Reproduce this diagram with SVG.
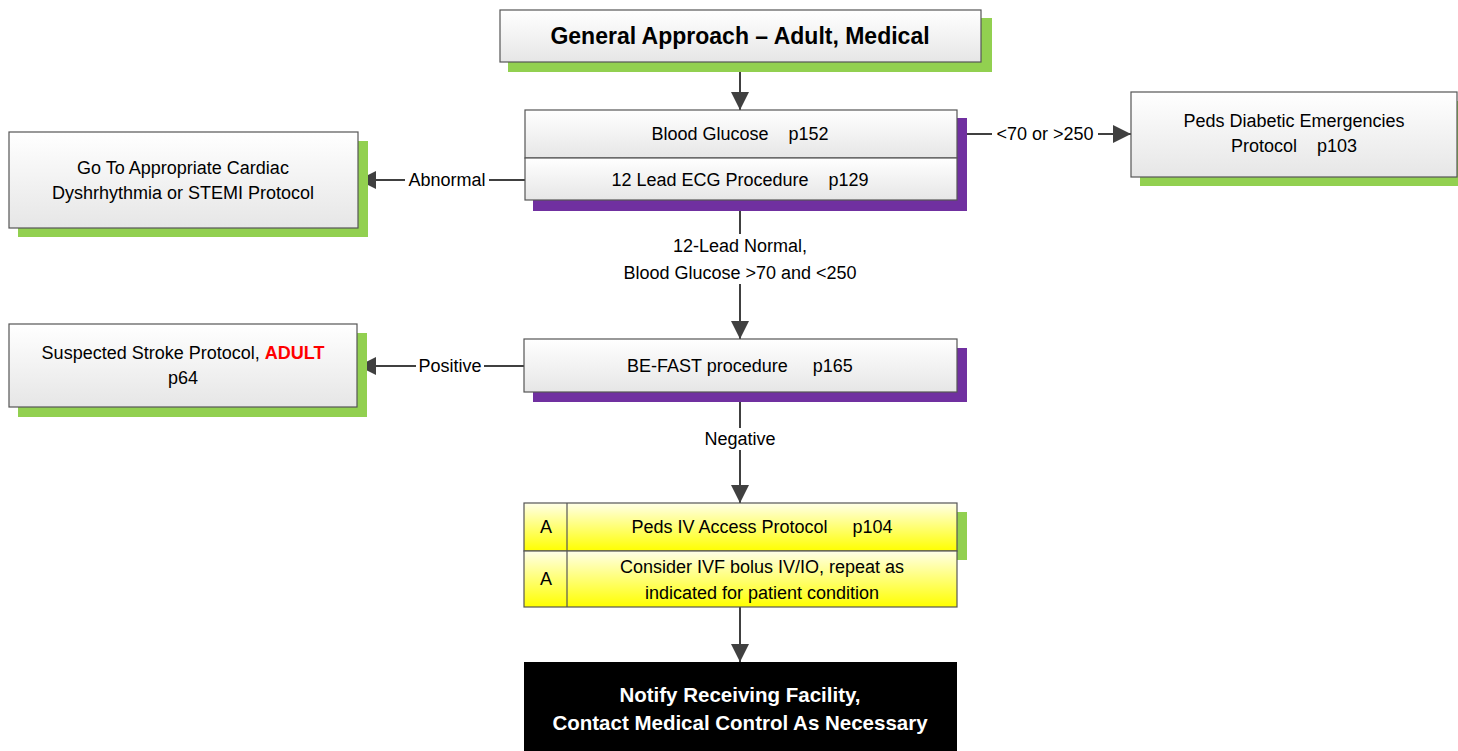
<svg xmlns="http://www.w3.org/2000/svg" width="1458" height="751" viewBox="0 0 1458 751">
<defs>
<linearGradient id="gw" x1="0" y1="0" x2="0" y2="1"><stop offset="0" stop-color="#ffffff"/><stop offset="1" stop-color="#e6e6e6"/></linearGradient>
<linearGradient id="gy" x1="0" y1="0" x2="0" y2="1"><stop offset="0" stop-color="#ffffe8"/><stop offset="1" stop-color="#ffff00"/></linearGradient>
<marker id="ah" viewBox="0 0 18 18" refX="18" refY="9" markerWidth="18" markerHeight="18" markerUnits="userSpaceOnUse" orient="auto"><path d="M0,0 L18,9 L0,18 Z" fill="#404040"/></marker>
<style>
text{font-family:"Liberation Sans",Arial,sans-serif;font-size:18px;fill:#000;text-anchor:middle;white-space:pre}
.t{font-size:23px;font-weight:bold}
.w{fill:#fff}
.box{fill:url(#gw);stroke:#555;stroke-width:1.2}
.ybox{fill:url(#gy);stroke:#555;stroke-width:1.2}
.green{fill:#92d050}
.purple{fill:#7030a0}
.ln{stroke:#404040;stroke-width:2;fill:none}
.lb{fill:#fff}
</style>
</defs>
<rect width="1458" height="751" fill="#fff"/>

<g id="connectors">
<line class="ln" x1="740" y1="62" x2="740" y2="110" marker-end="url(#ah)"/>
<line class="ln" x1="525" y1="180" x2="358" y2="180" marker-end="url(#ah)"/>
<line class="ln" x1="957" y1="134" x2="1131" y2="134" marker-end="url(#ah)"/>
<line class="ln" x1="740" y1="200" x2="740" y2="339" marker-end="url(#ah)"/>
<line class="ln" x1="524" y1="366" x2="358" y2="366" marker-end="url(#ah)"/>
<line class="ln" x1="740" y1="392" x2="740" y2="503" marker-end="url(#ah)"/>
<line class="ln" x1="740" y1="607" x2="740" y2="662" marker-end="url(#ah)"/>
<rect class="lb" x="405" y="169" width="84" height="22"/>
<text x="447" y="186">Abnormal</text>
<rect class="lb" x="992" y="123" width="106" height="22"/>
<text x="1045" y="140">&lt;70 or &gt;250</text>
<rect class="lb" x="612" y="234" width="256" height="50"/>
<text x="740" y="252">12-Lead Normal,</text>
<text x="740" y="279">Blood Glucose &gt;70 and &lt;250</text>
<rect class="lb" x="416" y="355" width="68" height="22"/>
<text x="450" y="372">Positive</text>
<rect class="lb" x="702" y="428" width="76" height="22"/>
<text x="740" y="445">Negative</text>
</g>

<g id="n-general">
<rect class="green" x="508" y="18" width="484" height="54"/>
<rect class="box" x="500" y="10" width="481" height="52"/>
<text class="t" x="740" y="44">General Approach – Adult, Medical</text>
</g>

<g id="n-glucose-ecg">
<rect class="purple" x="533" y="118" width="434" height="93"/>
<rect class="box" x="525" y="110" width="432" height="48"/>
<rect class="box" x="525" y="158" width="432" height="42"/>
<text x="740" y="140">Blood Glucose    p152</text>
<text x="740" y="186">12 Lead ECG Procedure    p129</text>
</g>

<g id="n-cardiac">
<rect class="green" x="18" y="141" width="350" height="96"/>
<rect class="box" x="9" y="132" width="349" height="96"/>
<text x="183" y="174">Go To Appropriate Cardiac</text>
<text x="183" y="199">Dyshrhythmia or STEMI Protocol</text>
</g>

<g id="n-diabetic">
<rect class="green" x="1140" y="101" width="318" height="85"/>
<rect class="box" x="1131" y="92" width="326" height="85"/>
<text x="1294" y="127">Peds Diabetic Emergencies</text>
<text x="1294" y="152">Protocol    p103</text>
</g>

<g id="n-stroke">
<rect class="green" x="18" y="333" width="349" height="84"/>
<rect class="box" x="9" y="324" width="348" height="83"/>
<text x="183" y="359">Suspected Stroke Protocol, <tspan font-weight="bold" fill="#ff0000">ADULT</tspan></text>
<text x="183" y="384">p64</text>
</g>

<g id="n-befast">
<rect class="purple" x="533" y="348" width="434" height="54"/>
<rect class="box" x="524" y="339" width="433" height="53"/>
<text x="740" y="372">BE-FAST procedure     p165</text>
</g>

<g id="n-ivaccess">
<rect class="green" x="533" y="512" width="434" height="48"/>
<rect class="ybox" x="524" y="503" width="433" height="48"/>
<rect class="ybox" x="524" y="551" width="433" height="56"/>
<line x1="567" y1="503" x2="567" y2="607" stroke="#555" stroke-width="1.2"/>
<text x="546" y="533">A</text>
<text x="762" y="533">Peds IV Access Protocol     p104</text>
<text x="546" y="585">A</text>
<text x="762" y="573">Consider IVF bolus IV/IO, repeat as</text>
<text x="762" y="599">indicated for patient condition</text>
</g>

<g id="n-notify">
<rect x="524" y="662" width="433" height="95" fill="#000"/>
<text class="t w" x="740" y="702" style="font-size:20.5px">Notify Receiving Facility,</text>
<text class="t w" x="740" y="730" style="font-size:20.5px">Contact Medical Control As Necessary</text>
</g>
</svg>
